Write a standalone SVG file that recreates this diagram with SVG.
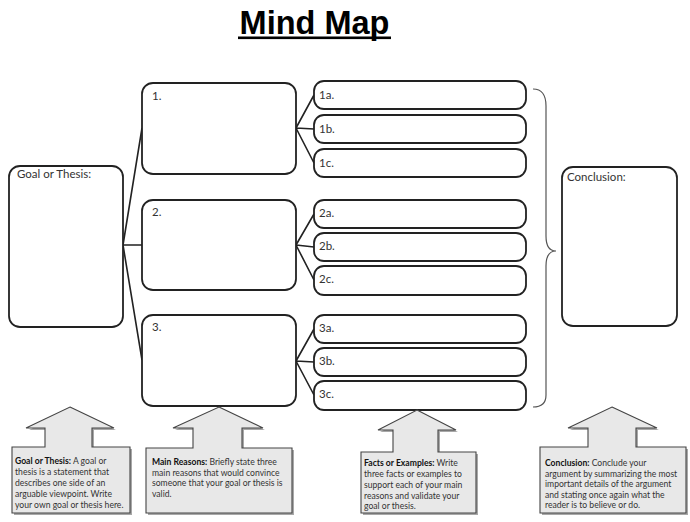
<svg xmlns="http://www.w3.org/2000/svg" width="690" height="522" viewBox="0 0 690 522">
  <defs>
    <style>
      .box { fill: #ffffff; stroke: #222222; stroke-width: 1.8; }
      .lbl { font-family: Lato, "Open Sans", "Liberation Sans", sans-serif; font-size: 11.5px; fill: #333333; }
      .link { fill: none; stroke: #222222; stroke-width: 1.6; }
      .brace { fill: none; stroke: #555555; stroke-width: 1.2; }
      .callout { fill: #e8e8e8; stroke: #444444; stroke-width: 1.1; }
      .shadow { fill: #a8a8a8; }
      .note { font-family: Lato, "Open Sans", "Liberation Sans", sans-serif; font-size: 8.6px; fill: #333333; }
      .note tspan.h { font-weight: bold; fill: #111111; }
      .title { font-family: "Liberation Sans", Arial, sans-serif; font-size: 32.5px; font-weight: bold; fill: #000000; }
    </style>
  </defs>

  <rect width="690" height="522" fill="#ffffff"/>

  <!-- heading -->
  <g id="title">
    <text class="title" x="314.5" y="34" text-anchor="middle">Mind Map</text>
    <rect x="238" y="36.5" width="153" height="2.6" fill="#000000"/>
  </g>

  <!-- connectors -->
  <g id="connectors">
    <path class="link" d="M123,245 L142,245 M123,245 L142,128 M123,245 L142,360"/>
    <path class="link" d="M296,128 L314,95 M296,128 L314,129 M296,128 L314,163"/>
    <path class="link" d="M296,245 L314,214 M296,245 L314,247 M296,245 L314,280"/>
    <path class="link" d="M296,361 L314,329 M296,361 L314,362 M296,361 L314,395"/>
    <path class="brace" d="M533,89 C542,89 546,95 546,106 L546,236 C546,246 549,251 556,251 C549,251 546,256 546,266 L546,395 C546,403 542,407 533,407"/>
  </g>

  <!-- goal -->
  <g id="goal">
    <rect class="box" x="9" y="166" width="114" height="161" rx="11"/>
    <text class="lbl" x="17" y="178">Goal or Thesis:</text>
  </g>

  <!-- main reasons -->
  <g id="reason-1">
    <rect class="box" x="142" y="83" width="154" height="91" rx="11"/>
    <text class="lbl" x="152" y="100">1.</text>
  </g>
  <g id="reason-2">
    <rect class="box" x="142" y="200" width="154" height="90" rx="11"/>
    <text class="lbl" x="152" y="216">2.</text>
  </g>
  <g id="reason-3">
    <rect class="box" x="142" y="315" width="154" height="91" rx="11"/>
    <text class="lbl" x="152" y="331">3.</text>
  </g>

  <!-- facts -->
  <g id="fact-1a"><rect class="box" x="314" y="81" width="212" height="28" rx="10"/><text class="lbl" x="319" y="99">1a.</text></g>
  <g id="fact-1b"><rect class="box" x="314" y="115" width="212" height="28" rx="10"/><text class="lbl" x="319" y="133">1b.</text></g>
  <g id="fact-1c"><rect class="box" x="314" y="149" width="212" height="28" rx="10"/><text class="lbl" x="319" y="167">1c.</text></g>
  <g id="fact-2a"><rect class="box" x="314" y="200" width="212" height="28" rx="10"/><text class="lbl" x="319" y="217">2a.</text></g>
  <g id="fact-2b"><rect class="box" x="314" y="233" width="212" height="28" rx="10"/><text class="lbl" x="319" y="250">2b.</text></g>
  <g id="fact-2c"><rect class="box" x="314" y="266" width="212" height="29" rx="10"/><text class="lbl" x="319" y="283">2c.</text></g>
  <g id="fact-3a"><rect class="box" x="314" y="315" width="212" height="28" rx="10"/><text class="lbl" x="319" y="332">3a.</text></g>
  <g id="fact-3b"><rect class="box" x="314" y="348" width="212" height="28" rx="10"/><text class="lbl" x="319" y="365">3b.</text></g>
  <g id="fact-3c"><rect class="box" x="314" y="381" width="212" height="29" rx="10"/><text class="lbl" x="319" y="398">3c.</text></g>

  <!-- conclusion -->
  <g id="conclusion">
    <rect class="box" x="562" y="167" width="115" height="159" rx="11"/>
    <text class="lbl" x="567" y="181">Conclusion:</text>
  </g>

  <!-- explanatory callouts -->
  <g id="note-goal">
    <path class="shadow" d="M72,409 L116,430 L94,430 L94,449 L132,449 L132,515 L14,515 L14,449 L47,449 L47,430 L29,430 Z"/>
    <path class="callout" d="M70,407 L114,428 L92,428 L92,447 L130,447 L130,513 L12,513 L12,447 L45,447 L45,428 L26,428 Z"/>
    <text class="note" x="15" y="464"><tspan class="h">Goal or Thesis:</tspan> A goal or</text>
    <text class="note" x="15" y="475">thesis is a statement that</text>
    <text class="note" x="15" y="486">describes one side of an</text>
    <text class="note" x="15" y="497">arguable viewpoint. Write</text>
    <text class="note" x="15" y="508">your own goal or thesis here.</text>
  </g>

  <g id="note-reasons">
    <path class="shadow" d="M221,409 L265,430 L244,430 L244,450 L294,450 L294,515 L148,515 L148,450 L195,450 L195,430 L175,430 Z"/>
    <path class="callout" d="M219,407 L263,428 L242,428 L242,448 L292,448 L292,513 L146,513 L146,448 L193,448 L193,428 L173,428 Z"/>
    <text class="note" x="152" y="465"><tspan class="h">Main Reasons:</tspan> Briefly state three</text>
    <text class="note" x="152" y="475.5">main reasons that would convince</text>
    <text class="note" x="152" y="486">someone that your goal or thesis is</text>
    <text class="note" x="152" y="496.5">valid.</text>
  </g>

  <g id="note-facts">
    <path class="shadow" d="M419,412 L458,432 L440,432 L440,454 L478,454 L478,515 L363,515 L363,454 L395,454 L395,432 L380,432 Z"/>
    <path class="callout" d="M417,410 L456,430 L438,430 L438,452 L476,452 L476,513 L361,513 L361,452 L393,452 L393,430 L378,430 Z"/>
    <text class="note" x="364" y="466"><tspan class="h">Facts or Examples:</tspan> Write</text>
    <text class="note" x="364" y="477">three facts or examples to</text>
    <text class="note" x="364" y="488">support each of your main</text>
    <text class="note" x="364" y="498.5">reasons and validate your</text>
    <text class="note" x="364" y="509">goal or thesis.</text>
  </g>

  <g id="note-conclusion">
    <path class="shadow" d="M614,409 L659,430 L638,430 L638,449 L688,449 L688,515 L542,515 L542,449 L590,449 L590,430 L570,430 Z"/>
    <path class="callout" d="M612,407 L657,428 L636,428 L636,447 L686,447 L686,513 L540,513 L540,447 L588,447 L588,428 L568,428 Z"/>
    <text class="note" x="545" y="466"><tspan class="h">Conclusion:</tspan> Conclude your</text>
    <text class="note" x="545" y="476.5">argument by summarizing the most</text>
    <text class="note" x="545" y="487">important details of the argument</text>
    <text class="note" x="545" y="497.5">and stating once again what the</text>
    <text class="note" x="545" y="508">reader is to believe or do.</text>
  </g>
</svg>
